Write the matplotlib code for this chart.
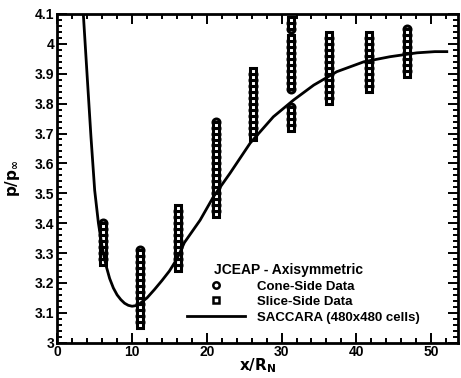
import matplotlib
matplotlib.use("Agg")
import matplotlib.pyplot as plt
from matplotlib.ticker import MultipleLocator
from matplotlib.lines import Line2D

plt.rcParams['font.family'] = ['Liberation Sans', 'DejaVu Sans']
plt.rcParams['font.weight'] = 'bold'
plt.rcParams['mathtext.default'] = 'bf'

# measurement stations (x/R_N)
station_x = [6.1, 11.1, 16.2, 21.2, 26.2, 31.2, 36.3, 41.7, 46.8]

# cone-side data, one list per station
cone_p = [
    [3.28, 3.30, 3.32, 3.34, 3.36, 3.38, 3.40],
    [3.07, 3.09, 3.11, 3.13, 3.15, 3.17, 3.19, 3.21, 3.23, 3.25, 3.27, 3.29, 3.31],
    [3.26, 3.28, 3.30, 3.32, 3.34, 3.36, 3.38, 3.40, 3.42, 3.44],
    [3.44, 3.46, 3.48, 3.50, 3.52, 3.54, 3.56, 3.58, 3.60, 3.62, 3.64, 3.66, 3.68, 3.70, 3.72, 3.74],
    [3.70, 3.72, 3.74, 3.76, 3.78, 3.80, 3.82, 3.84, 3.86, 3.88, 3.90],
    [3.73, 3.75, 3.77, 3.79, 3.85, 3.87, 3.89, 3.91, 3.93, 3.95, 3.97, 3.99, 4.01, 4.05, 4.07],
    [3.82, 3.84, 3.86, 3.88, 3.90, 3.92, 3.94, 3.96, 3.98, 4.00, 4.02],
    [3.86, 3.88, 3.90, 3.92, 3.94, 3.96, 3.98, 4.00, 4.02],
    [3.91, 3.93, 3.95, 3.97, 3.99, 4.01, 4.03, 4.05],
]

# slice-side data, one list per station
slice_p = [
    [3.27, 3.29, 3.31, 3.33, 3.35, 3.37, 3.39],
    [3.06, 3.08, 3.10, 3.12, 3.14, 3.16, 3.18, 3.20, 3.22, 3.24, 3.26, 3.28, 3.30],
    [3.25, 3.27, 3.29, 3.31, 3.33, 3.35, 3.37, 3.39, 3.41, 3.43, 3.45],
    [3.43, 3.45, 3.47, 3.49, 3.51, 3.53, 3.55, 3.57, 3.59, 3.61, 3.63, 3.65, 3.67, 3.69, 3.71, 3.73],
    [3.69, 3.71, 3.73, 3.75, 3.77, 3.79, 3.81, 3.83, 3.85, 3.87, 3.89, 3.91],
    [3.72, 3.74, 3.76, 3.78, 3.86, 3.88, 3.90, 3.92, 3.94, 3.96, 3.98, 4.00, 4.02, 4.06, 4.08],
    [3.81, 3.83, 3.85, 3.87, 3.89, 3.91, 3.93, 3.95, 3.97, 3.99, 4.01, 4.03],
    [3.85, 3.87, 3.89, 3.91, 3.93, 3.95, 3.97, 3.99, 4.01, 4.03],
    [3.90, 3.92, 3.94, 3.96, 3.98, 4.00, 4.02, 4.04],
]

# SACCARA (480x480 cells) surface pressure
cfd_x = [3.48, 4.0, 4.5, 5.0, 5.5, 6.0, 6.5, 7.0, 7.5, 8.0, 8.5, 9.0, 9.5, 10.0, 10.5,
         11.0, 12.0, 13.0, 14.0, 15.0, 16.0, 17.0, 19.1, 20.9, 23.1, 25.8, 28.9, 31.6,
         34.3, 37.4, 41.0, 44.5, 48.1, 50.5, 52.1]
cfd_p = [4.10, 3.89, 3.69, 3.51, 3.40, 3.32, 3.26, 3.215, 3.183, 3.160, 3.144, 3.132, 3.125,
         3.122, 3.124, 3.130, 3.150, 3.178, 3.208, 3.240, 3.280, 3.335, 3.41, 3.489, 3.567,
         3.668, 3.756, 3.812, 3.862, 3.907, 3.94, 3.957, 3.970, 3.974, 3.974]

fig = plt.figure(figsize=(4.61, 3.78), dpi=100)
ax = fig.add_axes([0.1243, 0.0934, 0.8692, 0.8696])

mk = dict(linestyle='none', markerfacecolor='white', markeredgecolor='black',
          markeredgewidth=2.2)
for xs, ps in zip(station_x, cone_p):
    ax.plot([xs] * len(ps), ps, marker='o', markersize=5.0, **mk)
for xs, ps in zip(station_x, slice_p):
    ax.plot([xs] * len(ps), ps, marker='s', markersize=4.4, **mk)

ax.plot(cfd_x, cfd_p, color='black', linewidth=2.0)

ax.set_xlim(0, 53.6)
ax.set_ylim(3.0, 4.1)
ax.xaxis.set_major_locator(MultipleLocator(10))
ax.xaxis.set_minor_locator(MultipleLocator(2))
ax.yaxis.set_major_locator(MultipleLocator(0.1))
ax.yaxis.set_minor_locator(MultipleLocator(0.02))
ax.yaxis.set_major_formatter(plt.FuncFormatter(lambda v, p: f"{v:g}"))

ax.tick_params(which='both', direction='in', top=True, right=True, width=1.4,
               labelsize=10, pad=2)
ax.tick_params(which='major', length=7)
ax.tick_params(which='minor', length=3.5)
for s in ax.spines.values():
    s.set_linewidth(2.0)
for lab in ax.get_xticklabels() + ax.get_yticklabels():
    lab.set_fontweight('bold')

ax.set_xlabel(r"$x/R_N$", fontsize=11)
ax.xaxis.set_label_coords(0.5, -0.04)
ax.set_ylabel(r"$p/p_\infty$", fontsize=11)
ax.yaxis.set_label_coords(-0.088, 0.5)

ax.text(0.39, 0.22, "JCEAP - Axisymmetric", transform=ax.transAxes,
        fontsize=10, fontweight='bold', va='center', ha='left')
leg_mk = dict(mk, markeredgewidth=1.8)
handles = [
    Line2D([], [], marker='o', markersize=4.6, **leg_mk),
    Line2D([], [], marker='s', markersize=4.0, **leg_mk),
    Line2D([], [], color='black', linewidth=2.0),
]
ax.legend(handles, ["Cone-Side Data", "Slice-Side Data", "SACCARA (480x480 cells)"],
          loc='lower left', bbox_to_anchor=(0.3, 0.03), frameon=False,
          prop={'size': 9.5, 'weight': 'bold'}, handlelength=4.4, handletextpad=0.9,
          labelspacing=0.25, borderpad=0.2)

fig.savefig("out.png", dpi=100)
